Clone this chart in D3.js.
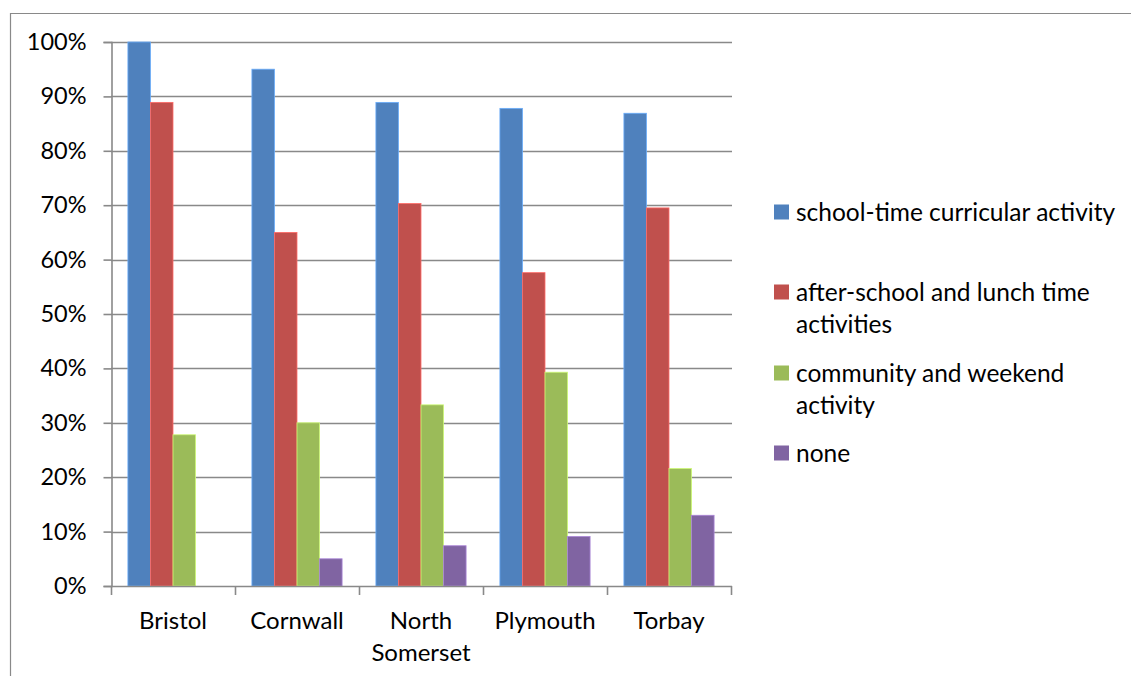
<!DOCTYPE html>
<html>
<head>
<meta charset="utf-8">
<script src="https://cdn.jsdelivr.net/npm/d3@7"></script>
<style>
  html, body { margin: 0; padding: 0; background: #fff; }
  svg { display: block; }
  text { font-family: Lato, "Open Sans", sans-serif; fill: #000; }
</style>
</head>
<body>
<svg id="chart" width="1131" height="676"></svg>
<script>
const categories = ["Bristol", "Cornwall", "North Somerset", "Plymouth", "Torbay"];
const categoryLines = [["Bristol"], ["Cornwall"], ["North", "Somerset"], ["Plymouth"], ["Torbay"]];
const seriesNames = ["school-time curricular activity", "after-school and lunch time activities", "community and weekend activity", "none"];
const legendLines = [["school-time curricular activity"], ["after-school and lunch time", "activities"], ["community and weekend", "activity"], ["none"]];
const schoolTime = [100, 95, 88.9, 87.8, 86.9];
const afterSchool = [88.9, 65, 70.3, 57.6, 69.5];
const community = [27.8, 30, 33.3, 39.3, 21.6];
const none = [0, 5, 7.4, 9.1, 13];
const seriesColors = ["#4F81BD", "#C0504D", "#9BBB59", "#8064A2"];
const yTicks = [0, 10, 20, 30, 40, 50, 60, 70, 80, 90, 100];

const seriesValues = [schoolTime, afterSchool, community, none];
const svg = d3.select("#chart");
const gridColor = "#898989";

// outer chart border (partly cropped)
svg.append("path")
  .attr("d", "M10.5,700 L10.5,13.5 L1200,13.5")
  .attr("fill", "none").attr("stroke", gridColor).attr("stroke-width", 1.2);

const plotLeft = 111, plotRight = 731, plotTop = 42, plotBottom = 586;

const y = d3.scaleLinear().domain([0, 100]).range([plotBottom, plotTop]);
const x0 = d3.scaleBand().domain(categories).range([plotLeft, plotRight])
  .paddingInner(1.5 / 5.5).paddingOuter(0.75 / 5.5);
const x1 = d3.scaleBand().domain(seriesNames).range([0, x0.bandwidth()]);

// gridlines
svg.append("g").selectAll("line").data(yTicks.filter(d => d > 0)).join("line")
  .attr("x1", plotLeft).attr("x2", plotRight + 1)
  .attr("y1", d => Math.round(y(d)) + 0.5).attr("y2", d => Math.round(y(d)) + 0.5)
  .attr("stroke", gridColor).attr("stroke-width", 1.6);

// y axis
const yAxis = d3.axisLeft(y).tickValues(yTicks).tickSize(8).tickPadding(17)
  .tickFormat(d => d + "%");
const gy = svg.append("g").attr("transform", `translate(${plotLeft + 0.5},0)`).call(yAxis);
gy.select(".domain").attr("stroke", gridColor).attr("stroke-width", 1.6);
gy.selectAll(".tick line").attr("stroke", gridColor).attr("stroke-width", 1.6);
gy.selectAll(".tick text").attr("font-size", 23.5).attr("font-family", "Lato, sans-serif").attr("fill", "#000");

// bars
const groups = svg.append("g").selectAll("g").data(categories).join("g")
  .attr("transform", d => `translate(${x0(d)},0)`);
groups.selectAll("rect")
  .data((c, i) => seriesNames.map((s, j) => ({ s, j, v: seriesValues[j][i] })))
  .join("rect")
  .attr("x", d => x1(d.s))
  .attr("width", x1.bandwidth())
  .attr("y", d => y(d.v))
  .attr("height", d => y(0) - y(d.v))
  .attr("fill", d => seriesColors[d.j])
  .attr("stroke", d => d.v > 0 ? d3.color(seriesColors[d.j]).brighter(0.8) : "none")
  .attr("stroke-width", 0.8);

// x axis
const xEdges = categories.map(c => x0(c) - x0.step() * x0.paddingInner() / 2).concat([plotRight]);
const gx = svg.append("g");
gx.append("line").attr("x1", plotLeft).attr("x2", plotRight + 1)
  .attr("y1", plotBottom + 0.5).attr("y2", plotBottom + 0.5)
  .attr("stroke", gridColor).attr("stroke-width", 1.6);
gx.selectAll("line.tk").data(xEdges).join("line").attr("class", "tk")
  .attr("x1", d => Math.round(d) + 0.5).attr("x2", d => Math.round(d) + 0.5)
  .attr("y1", plotBottom).attr("y2", plotBottom + 9)
  .attr("stroke", gridColor).attr("stroke-width", 1.6);
const xl = gx.selectAll("text").data(categories).join("text")
  .attr("x", d => x0(d) + x0.bandwidth() / 2)
  .attr("y", 629)
  .attr("text-anchor", "middle").attr("font-size", 24);
xl.selectAll("tspan").data((d, i) => categoryLines[i]).join("tspan")
  .attr("x", function() { return d3.select(this.parentNode).attr("x"); })
  .attr("dy", (d, i) => i === 0 ? 0 : 32)
  .text(d => d);

// legend
const legendRowY = [212, 292, 373, 453];
const lg = svg.append("g").selectAll("g").data(seriesNames).join("g")
  .attr("transform", (d, i) => `translate(774,${legendRowY[i]})`);
lg.append("rect").attr("x", 0).attr("y", -7.5).attr("width", 15).attr("height", 15)
  .attr("fill", (d, i) => seriesColors[i]);
const lt = lg.append("text").attr("x", 22).attr("y", 8.5).attr("font-size", 24.5);
lt.selectAll("tspan").data((d, i) => legendLines[i]).join("tspan")
  .attr("x", 22).attr("dy", (d, i) => i === 0 ? 0 : 32).text(d => d);
</script>
</body>
</html>
